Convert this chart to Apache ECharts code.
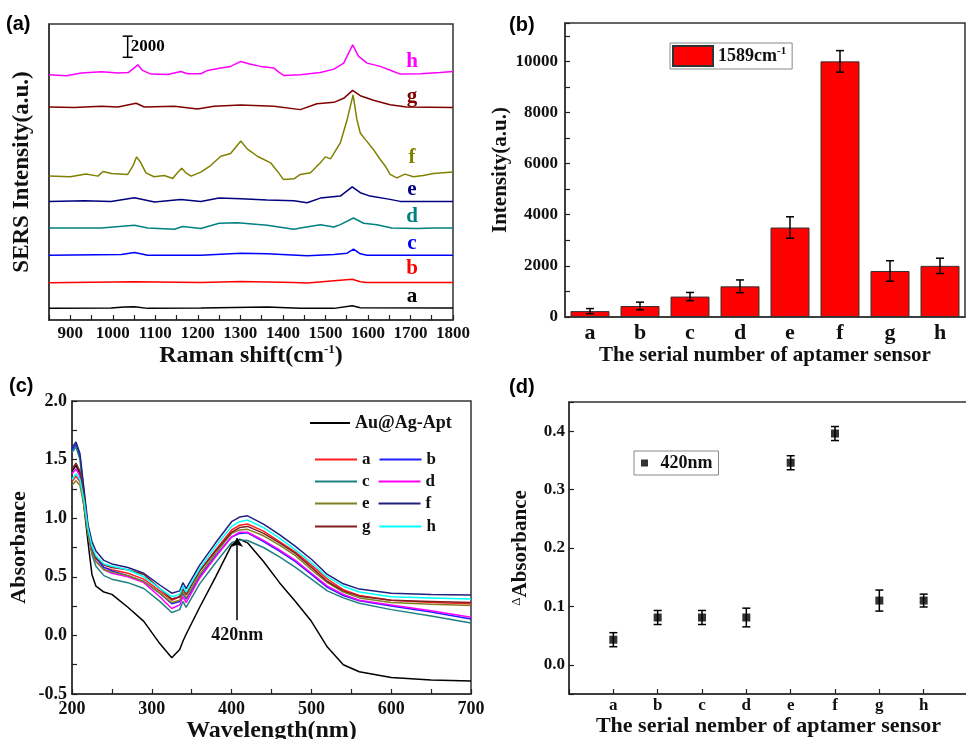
<!DOCTYPE html>
<html>
<head>
<meta charset="utf-8">
<script src="https://cdn.jsdelivr.net/npm/echarts@6/dist/echarts.min.js"></script>
<style>
  html, body { margin: 0; padding: 0; background: #fff; }
  #chart { width: 966px; height: 739px; }
</style>
</head>
<body>
<div id="chart"></div>
<script>
const SERIF = "'Liberation Serif','Times New Roman',serif"
const SANS = "'Liberation Sans',Arial,sans-serif"

const sensors = ['a', 'b', 'c', 'd', 'e', 'f', 'g', 'h']

// (a) SERS spectra, intensity above each trace's own baseline
const ramanA = [[850,-30],[996,0],[1027,90],[1051,130],[1082,-30],[1207,0],[1363,90],[1441,-30],[1520,-30],[1563,220],[1582,30],[1800,0]]
const ramanB = [[850,-30],[1051,60],[1207,0],[1301,90],[1426,0],[1457,-60],[1563,310],[1582,60],[1598,0],[1800,0]]
const ramanC = [[850,0],[1020,60],[1051,250],[1082,0],[1207,0],[1301,190],[1363,130],[1457,-60],[1520,60],[1551,190],[1566,570],[1582,130],[1598,0],[1800,0]]
const ramanD = [[850,0],[973,0],[1051,250],[1082,0],[1145,-130],[1164,130],[1207,-60],[1250,440],[1293,500],[1363,250],[1426,-130],[1441,0],[1488,310],[1520,90],[1535,310],[1566,940],[1590,440],[1621,310],[1656,0],[1715,-60],[1754,0],[1800,0]]
const ramanE = [[850,0],[933,60],[996,0],[1051,350],[1098,-60],[1160,190],[1207,0],[1250,310],[1301,250],[1363,130],[1426,60],[1457,-130],[1488,310],[1535,500],[1563,1380],[1582,820],[1605,500],[1652,190],[1676,0],[1800,0]]
const ramanF = [[850,0],[900,-60],[937,190],[965,0],[977,440],[997,250],[1035,160],[1047,940],[1056,1820],[1066,1260],[1078,310],[1097,-60],[1121,60],[1141,-220],[1152,310],[1162,750],[1172,310],[1184,0],[1207,380],[1230,1000],[1254,1880],[1277,2140],[1301,3330],[1316,2580],[1340,1880],[1371,1260],[1387,470],[1401,-310],[1426,-250],[1441,160],[1465,310],[1488,1260],[1500,1820],[1512,1630],[1535,3140],[1551,5340],[1565,7690],[1574,5340],[1582,4080],[1594,3450],[1613,2510],[1629,1570],[1641,940],[1652,160],[1668,-160],[1687,190],[1707,-60],[1730,60],[1754,250],[1800,380]]
const ramanG = [[850,0],[910,-60],[973,60],[1012,0],[1055,350],[1074,0],[1145,60],[1199,-190],[1238,60],[1301,190],[1379,60],[1441,-250],[1480,310],[1520,440],[1543,820],[1564,1570],[1582,1070],[1613,630],[1652,220],[1691,0],[1800,-60]]
const ramanH = [[850,0],[891,-90],[926,160],[973,280],[1012,160],[1037,220],[1047,530],[1059,940],[1070,410],[1090,60],[1129,30],[1160,310],[1176,90],[1207,90],[1223,410],[1254,630],[1277,790],[1301,1260],[1324,1000],[1348,790],[1379,630],[1391,220],[1402,-60],[1441,0],[1488,220],[1520,530],[1543,1100],[1564,2830],[1578,1730],[1598,1100],[1629,790],[1660,310],[1676,60],[1723,90],[1770,220],[1800,310]]
const ramanOffsets = [1130, 3550, 6130, 8710, 11220, 13610, 20150, 23200]
const ramanColors = ['#000000', '#ff0000', '#0000ff', '#008080', '#000080', '#808000', '#800000', '#ff00ff']
const scaleBar = [1035, 24850, 26850] // x, from, to (2000 a.u.)

// (b) 1589 cm-1 peak intensity
const intensity1589 = [230, 430, 800, 1200, 3500, 10000, 1800, 2000]
const intensityErr = [100, 150, 160, 250, 420, 420, 400, 300]

// (c) UV-vis absorbance
const wavelengths = [200,205,210,215,220,225,230,240,250,270,290,310,325,335,339,343,360,380,400,410,420,440,460,480,500,520,540,560,600,650,700]
const absApt = [1.40,1.45,1.38,1.10,0.80,0.52,0.42,0.37,0.35,0.24,0.12,-0.07,-0.19,-0.12,-0.05,0.01,0.24,0.50,0.77,0.82,0.79,0.63,0.45,0.29,0.12,-0.10,-0.25,-0.31,-0.36,-0.38,-0.39]
const absA = [1.31,1.36,1.31,1.13,0.89,0.74,0.66,0.58,0.56,0.53,0.48,0.38,0.30,0.33,0.40,0.35,0.55,0.73,0.90,0.94,0.95,0.89,0.80,0.71,0.60,0.48,0.39,0.34,0.30,0.28,0.27]
const absB = [1.58,1.63,1.52,1.22,0.92,0.75,0.66,0.58,0.55,0.51,0.46,0.36,0.27,0.29,0.36,0.31,0.50,0.68,0.84,0.87,0.875,0.80,0.72,0.63,0.52,0.41,0.34,0.295,0.25,0.20,0.14]
const absC = [1.56,1.61,1.50,1.18,0.88,0.69,0.59,0.51,0.48,0.45,0.40,0.29,0.195,0.22,0.29,0.24,0.44,0.62,0.79,0.815,0.81,0.75,0.67,0.58,0.48,0.38,0.32,0.275,0.22,0.165,0.105]
const absD = [1.38,1.42,1.36,1.15,0.88,0.71,0.63,0.56,0.53,0.50,0.45,0.33,0.23,0.26,0.33,0.28,0.49,0.67,0.84,0.88,0.88,0.81,0.73,0.64,0.53,0.42,0.35,0.30,0.26,0.21,0.155]
const absE = [1.28,1.32,1.28,1.10,0.86,0.71,0.63,0.56,0.54,0.51,0.46,0.36,0.28,0.30,0.37,0.32,0.52,0.70,0.87,0.90,0.905,0.85,0.77,0.68,0.56,0.45,0.37,0.32,0.28,0.265,0.255]
const absF = [1.60,1.65,1.55,1.25,0.95,0.80,0.72,0.64,0.61,0.58,0.53,0.43,0.36,0.38,0.45,0.40,0.60,0.79,0.97,1.01,1.02,0.95,0.86,0.76,0.65,0.52,0.44,0.395,0.36,0.35,0.345]
const absG = [1.42,1.47,1.40,1.18,0.91,0.74,0.66,0.60,0.58,0.56,0.52,0.40,0.31,0.33,0.40,0.35,0.55,0.72,0.88,0.92,0.93,0.87,0.79,0.70,0.58,0.46,0.38,0.335,0.30,0.29,0.28]
const absH = [1.33,1.38,1.33,1.15,0.91,0.76,0.68,0.61,0.59,0.56,0.50,0.40,0.33,0.35,0.42,0.37,0.57,0.76,0.93,0.97,0.985,0.92,0.83,0.73,0.62,0.50,0.42,0.37,0.33,0.32,0.31]
const uvColors = ['#ff2020', '#2020ff', '#208080', '#ff00ff', '#808020', '#202080', '#802020', '#00ffff']
const peakMark = [407, 0.13, 0.83] // arrow at the plasmon band

// (d) absorbance change at 420 nm
const deltaAbs = [0.043, 0.081, 0.081, 0.081, 0.346, 0.396, 0.110, 0.110]
const deltaErr = [0.012, 0.012, 0.012, 0.016, 0.012, 0.012, 0.018, 0.011]

const ramanSets = [ramanA, ramanB, ramanC, ramanD, ramanE, ramanF, ramanG, ramanH]
const uvSets = [absA, absB, absC, absD, absE, absF, absG, absH]

const chart = echarts.init(document.getElementById('chart'))

// 通用样式
const boldSerif = (size) => ({ fontFamily: SERIF, fontWeight: 'bold', fontSize: size, color: '#111' })
const tickIn = { show: true, inside: true, length: 5, lineStyle: { color: '#222', width: 1.2 } }
const axisLine = { show: true, onZero: false, lineStyle: { color: '#333', width: 1.5 } }
const gridBox = { show: true, borderColor: '#333', borderWidth: 1.5, outerBoundsMode: 'none' }

// 误差棒
const errorBar = (capHalf) => (params, api) => {
  const x = api.value(0)
  const y = api.value(1)
  const e = api.value(2)
  const hi = api.coord([x, y + e])
  const lo = api.coord([x, y - e])
  const style = { stroke: '#000', lineWidth: 1.5 }
  return {
    type: 'group',
    children: [
      { type: 'line', shape: { x1: hi[0], y1: hi[1], x2: lo[0], y2: lo[1] }, style },
      { type: 'line', shape: { x1: hi[0] - capHalf, y1: hi[1], x2: hi[0] + capHalf, y2: hi[1] }, style },
      { type: 'line', shape: { x1: lo[0] - capHalf, y1: lo[1], x2: lo[0] + capHalf, y2: lo[1] }, style }
    ]
  }
}

const series = []

// (a)
ramanSets.forEach((set, i) => {
  series.push({
    name: 'SERS ' + sensors[i],
    type: 'line',
    xAxisIndex: 0,
    yAxisIndex: 0,
    symbol: 'none',
    data: set.map(p => [p[0], p[1] + ramanOffsets[i]]),
    lineStyle: { color: ramanColors[i], width: 1.5 },
    itemStyle: { color: ramanColors[i] }
  })
})
series.push({
  type: 'custom',
  xAxisIndex: 0,
  yAxisIndex: 0,
  data: [scaleBar],
  renderItem: (params, api) => {
    const top = api.coord([api.value(0), api.value(2)])
    const bot = api.coord([api.value(0), api.value(1)])
    const style = { stroke: '#000', lineWidth: 1.5 }
    return {
      type: 'group',
      children: [
        { type: 'line', shape: { x1: top[0], y1: top[1], x2: bot[0], y2: bot[1] }, style },
        { type: 'line', shape: { x1: top[0] - 5, y1: top[1], x2: top[0] + 5, y2: top[1] }, style },
        { type: 'line', shape: { x1: bot[0] - 5, y1: bot[1], x2: bot[0] + 5, y2: bot[1] }, style },
        { type: 'text', x: top[0] + 3, y: (top[1] + bot[1]) / 2, style: { text: '2000', font: `bold 17px ${SERIF}`, fill: '#000', verticalAlign: 'middle' } }
      ]
    }
  }
})

// (b)
series.push({
  name: '1589cm-1',
  type: 'bar',
  xAxisIndex: 1,
  yAxisIndex: 1,
  barWidth: '78%',
  data: intensity1589,
  itemStyle: { color: '#ff0000', borderColor: '#333', borderWidth: 1 }
})
series.push({
  type: 'custom',
  xAxisIndex: 1,
  yAxisIndex: 1,
  data: intensity1589.map((v, i) => [i, v, intensityErr[i]]),
  encode: { x: 0, y: 1 },
  renderItem: errorBar(4),
  z: 5
})

// (c)
series.push({
  name: 'Au@Ag-Apt',
  type: 'line',
  xAxisIndex: 2,
  yAxisIndex: 2,
  symbol: 'none',
  data: wavelengths.map((w, i) => [w, absApt[i]]),
  lineStyle: { color: '#000', width: 1.5 },
  itemStyle: { color: '#000' },
  markLine: {
    silent: true,
    symbol: ['none', 'arrow'],
    symbolSize: 9,
    lineStyle: { color: '#000', width: 1.5, type: 'solid' },
    label: { show: true, position: 'start', formatter: '420nm', distance: 6, ...boldSerif(18) },
    data: [[{ coord: [peakMark[0], peakMark[1]] }, { coord: [peakMark[0], peakMark[2]] }]]
  }
})
uvSets.forEach((set, i) => {
  series.push({
    name: sensors[i],
    type: 'line',
    xAxisIndex: 2,
    yAxisIndex: 2,
    symbol: 'none',
    data: wavelengths.map((w, k) => [w, set[k]]),
    lineStyle: { color: uvColors[i], width: 1.5 },
    itemStyle: { color: uvColors[i] }
  })
})

// (d)
series.push({
  name: '420nm',
  type: 'scatter',
  xAxisIndex: 3,
  yAxisIndex: 3,
  symbol: 'rect',
  symbolSize: 8,
  data: deltaAbs.map((v, i) => [i + 1, v]),
  itemStyle: { color: '#000' },
  z: 6
})
series.push({
  type: 'custom',
  xAxisIndex: 3,
  yAxisIndex: 3,
  data: deltaAbs.map((v, i) => [i + 1, v, deltaErr[i]]),
  encode: { x: 0, y: 1 },
  renderItem: errorBar(4)
})

const uvLegendRow = (names, top) => ({
  left: 315,
  top,
  padding: 0,
  itemGap: 9,
  icon: 'rect',
  itemWidth: 42,
  itemHeight: 2,
  data: names,
  textStyle: boldSerif(17)
})

// (a) 曲线标签
const labelY = [297, 269, 244, 217, 190, 158, 97, 62]
const curveLabels = sensors.map((s, i) => ({
  type: 'text',
  x: 412,
  y: labelY[i],
  style: { text: s, font: `bold 21px ${SERIF}`, fill: ramanColors[i], align: 'center', verticalAlign: 'middle' }
}))

const panelTag = (text, x, y) => ({
  type: 'text',
  x, y,
  style: { text, font: `bold 20px ${SANS}`, fill: '#000' }
})

const option = {
  animation: false,
  backgroundColor: '#fff',
  grid: [
    { left: 49, right: 513, top: 24, bottom: 419, ...gridBox },
    { left: 565, right: 1, top: 23, bottom: 422, ...gridBox },
    { left: 72, right: 495, top: 401, bottom: 45, ...gridBox },
    { left: 569, right: -2, top: 402, bottom: 45, ...gridBox }
  ],
  xAxis: [
    {
      gridIndex: 0, type: 'value', min: 850, max: 1800, interval: 50,
      axisLine, axisTick: tickIn, splitLine: { show: false },
      axisLabel: { margin: 5, formatter: v => (v % 100 === 0 ? String(v) : ''), ...boldSerif(17) },
      name: '{t|Raman shift(cm}{s|-1}{t|)}', nameLocation: 'middle', nameGap: 22,
      nameTextStyle: { rich: { t: boldSerif(24), s: { ...boldSerif(13), padding: [0, 0, 12, 0] } } }
    },
    {
      gridIndex: 1, type: 'category', data: sensors,
      axisLine, axisTick: { ...tickIn, alignWithLabel: true },
      axisLabel: { margin: 5, ...boldSerif(22) },
      name: 'The serial number of aptamer sensor', nameLocation: 'middle', nameGap: 28,
      nameTextStyle: boldSerif(21)
    },
    {
      gridIndex: 2, type: 'value', min: 200, max: 700, interval: 50,
      axisLine, axisTick: tickIn, splitLine: { show: false },
      axisLabel: { margin: 6, formatter: v => (v % 100 === 0 ? String(v) : ''), ...boldSerif(18) },
      name: 'Wavelength(nm)', nameLocation: 'middle', nameGap: 21,
      nameTextStyle: boldSerif(24)
    },
    {
      gridIndex: 3, type: 'value', min: 0, max: 9, interval: 1,
      axisLine, axisTick: tickIn, splitLine: { show: false },
      axisLabel: { margin: 3, formatter: v => sensors[v - 1] || '', ...boldSerif(17) },
      name: 'The serial nember of aptamer sensor', nameLocation: 'middle', nameGap: 13,
      nameTextStyle: boldSerif(22)
    }
  ],
  yAxis: [
    {
      gridIndex: 0, type: 'value', min: 0, max: 28000,
      axisLine, axisTick: { show: false }, axisLabel: { show: false }, splitLine: { show: false },
      name: 'SERS Intensity(a.u.)', nameLocation: 'middle', nameGap: 15,
      nameTextStyle: boldSerif(23)
    },
    {
      gridIndex: 1, type: 'value', min: 0, max: 11500, interval: 1000,
      axisLine, axisTick: tickIn, splitLine: { show: false },
      axisLabel: { margin: 7, formatter: v => (v % 2000 === 0 ? String(v) : ''), ...boldSerif(17) },
      name: 'Intensity(a.u.)', nameLocation: 'middle', nameGap: 54,
      nameTextStyle: boldSerif(21)
    },
    {
      gridIndex: 2, type: 'value', min: -0.5, max: 2.0, interval: 0.25,
      axisLine, axisTick: tickIn, splitLine: { show: false },
      axisLabel: {
        margin: 5,
        formatter: v => (Math.abs(v * 2 - Math.round(v * 2)) < 1e-6 ? v.toFixed(1) : ''),
        ...boldSerif(18)
      },
      name: 'Absorbance', nameLocation: 'middle', nameGap: 42,
      nameTextStyle: boldSerif(22)
    },
    {
      gridIndex: 3, type: 'value', min: -0.05, max: 0.45, splitNumber: 5,
      axisLine, axisTick: tickIn, splitLine: { show: false },
      axisLabel: {
        margin: 4,
        formatter: v => (Math.abs(v * 10 - Math.round(v * 10)) < 1e-6 ? v.toFixed(1) : ''),
        ...boldSerif(17)
      },
      name: '{d|Δ}{t|Absorbance}', nameLocation: 'middle', nameGap: 38,
      nameTextStyle: { rich: { t: boldSerif(21), d: { fontFamily: SERIF, fontSize: 13, color: '#111', verticalAlign: 'top', lineHeight: 14 } } }
    }
  ],
  legend: [
    {
      left: 670, top: 43, padding: [2, 6, 2, 2],
      borderColor: '#888', borderWidth: 1,
      icon: 'rect', itemWidth: 40, itemHeight: 20,
      data: ['1589cm-1'],
      formatter: () => '{n|1589cm}{s|-1}',
      textStyle: { rich: { n: boldSerif(18), s: { ...boldSerif(11), padding: [0, 0, 10, 0] } } }
    },
    {
      left: 310, top: 414, padding: 0,
      icon: 'rect', itemWidth: 40, itemHeight: 2,
      data: ['Au@Ag-Apt'],
      textStyle: boldSerif(18)
    },
    uvLegendRow(['a', 'b'], 451),
    uvLegendRow(['c', 'd'], 473),
    uvLegendRow(['e', 'f'], 495),
    uvLegendRow(['g', 'h'], 518),
    {
      left: 634, top: 451, padding: [3, 6, 3, 7],
      borderColor: '#888', borderWidth: 1,
      icon: 'path://M0,0H10V10H0Z', itemWidth: 22, itemHeight: 7,
      data: ['420nm'],
      textStyle: boldSerif(18)
    }
  ],
  graphic: [
    ...curveLabels,
    panelTag('(a)', 6, 14),
    panelTag('(b)', 509, 15),
    panelTag('(c)', 9, 376),
    panelTag('(d)', 509, 377)
  ],
  series
}

chart.setOption(option)
</script>
</body>
</html>
